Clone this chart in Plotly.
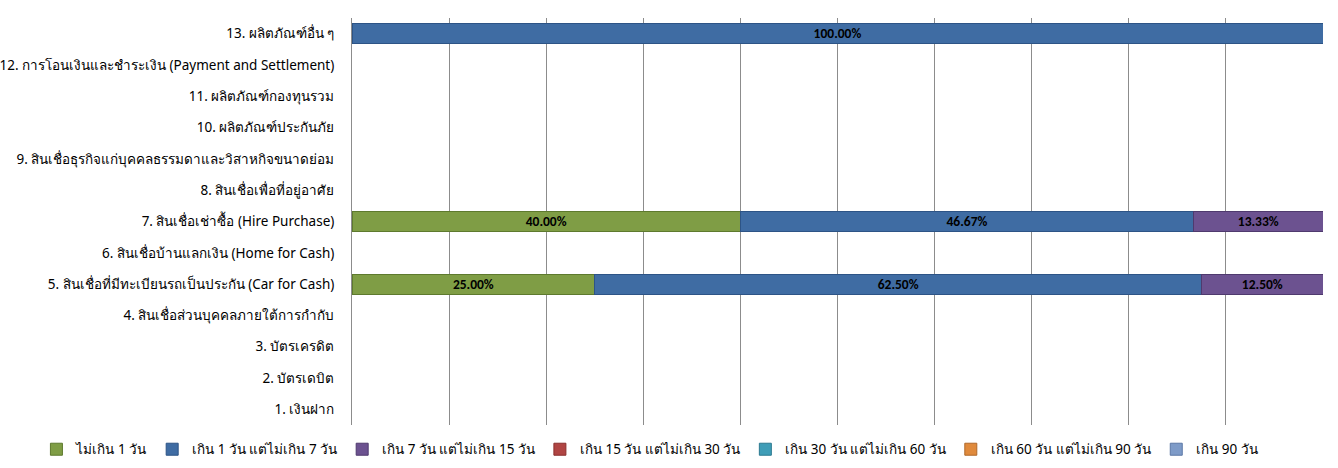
import plotly.graph_objects as go

categories = [
    "1. เงินฝาก",
    "2. บัตรเดบิต",
    "3. บัตรเครดิต",
    "4. สินเชื่อส่วนบุคคลภายใต้การกำกับ",
    "5. สินเชื่อที่มีทะเบียนรถเป็นประกัน (Car for Cash)",
    "6. สินเชื่อบ้านแลกเงิน (Home for Cash)",
    "7. สินเชื่อเช่าซื้อ (Hire Purchase)",
    "8. สินเชื่อเพื่อที่อยู่อาศัย",
    "9. สินเชื่อธุรกิจแก่บุคคลธรรมดาและวิสาหกิจขนาดย่อม",
    "10. ผลิตภัณฑ์ประกันภัย",
    "11. ผลิตภัณฑ์กองทุนรวม",
    "12. การโอนเงินและชำระเงิน (Payment and Settlement)",
    "13. ผลิตภัณฑ์อื่น ๆ",
]

series_names = [
    "ไม่เกิน 1 วัน",
    "เกิน 1 วัน แต่ไม่เกิน 7 วัน",
    "เกิน 7 วัน แต่ไม่เกิน 15 วัน",
    "เกิน 15 วัน แต่ไม่เกิน 30 วัน",
    "เกิน 30 วัน แต่ไม่เกิน 60 วัน",
    "เกิน 60 วัน แต่ไม่เกิน 90 วัน",
    "เกิน 90 วัน",
]

v_le1 = [None, None, None, None, 25.00, None, 40.00, None, None, None, None, None, None]
v_1_7 = [None, None, None, None, 62.50, None, 46.67, None, None, None, None, None, 100.00]
v_7_15 = [None, None, None, None, 12.50, None, 13.33, None, None, None, None, None, None]
v_15_30 = [None] * 13
v_30_60 = [None] * 13
v_60_90 = [None] * 13
v_gt90 = [None] * 13

values = [v_le1, v_1_7, v_7_15, v_15_30, v_30_60, v_60_90, v_gt90]
colors = ["#7F9D45", "#3F6CA3", "#6C5290", "#B04543", "#3F9DB7", "#E08A3C", "#7E9BC8"]
lines = ["#5E7A2E", "#2D5486", "#4F3A6E", "#8A2F2D", "#2C7A90", "#B0682A", "#5C78A6"]

fig = go.Figure()
for name, vals, c, lc in zip(series_names, values, colors, lines):
    fig.add_trace(go.Bar(
        y=categories, x=vals, name=name, orientation="h",
        marker=dict(color=c, line=dict(color=lc, width=1)),
        text=[f"{v:.2f}%" if v else "" for v in vals],
        textposition="inside", insidetextanchor="middle",
        constraintext="none",
        textfont=dict(family="Calibri, Carlito, Liberation Sans, sans-serif", size=13.5, color="#000000"),
        texttemplate="<b>%{text}</b>",
        hoverinfo="skip",
    ))

fig.update_layout(
    barmode="stack",
    bargap=0.36,
    width=1338, height=468,
    margin=dict(l=352, r=15, t=18, b=43, autoexpand=False),
    paper_bgcolor="white", plot_bgcolor="white",
    font=dict(family="Tahoma, Noto Sans, DejaVu Sans, sans-serif", size=13.5, color="#000000"),
    showlegend=True,
    legend=dict(
        orientation="h", xref="paper", yref="paper",
        x=-0.325, xanchor="left", y=-0.022, yanchor="top",
        font=dict(size=13.5), itemwidth=30, traceorder="normal",
    ),
)
fig.update_xaxes(
    range=[0, 100], dtick=10, showticklabels=False,
    showgrid=True, gridcolor="#8C8C8C", gridwidth=1,
    zeroline=False, showline=False, fixedrange=True,
)
fig.update_yaxes(
    categoryorder="array", categoryarray=categories,
    showline=True, linecolor="#8C8C8C", linewidth=1,
    ticks="", ticklabelstandoff=14, showgrid=False, automargin=False,
)

fig.write_html("out.html")
